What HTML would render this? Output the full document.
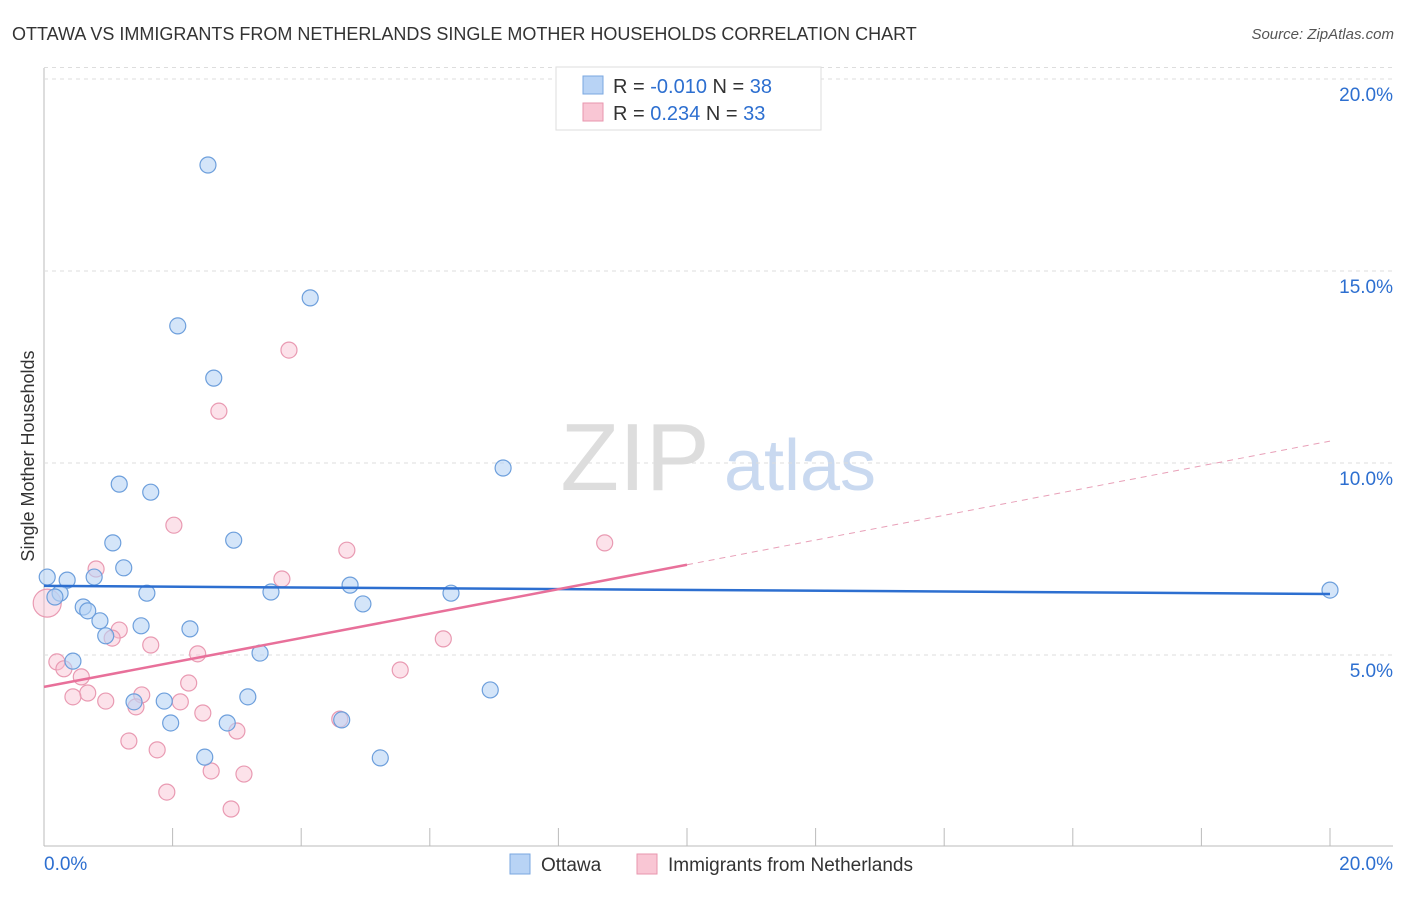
<!DOCTYPE html>
<html><head><meta charset="utf-8"><style>
body{margin:0;background:#fff;font-family:"Liberation Sans",sans-serif}
svg text{font-family:"Liberation Sans",sans-serif}
</style></head><body>
<svg id="chart" width="1406" height="892">
<text x="12" y="40" font-size="18" fill="#333">OTTAWA VS IMMIGRANTS FROM NETHERLANDS SINGLE MOTHER HOUSEHOLDS CORRELATION CHART</text>
<text x="1394" y="39" font-size="15" fill="#555" text-anchor="end" font-style="italic">Source: ZipAtlas.com</text>
<text x="34" y="456" font-size="18" fill="#333" text-anchor="middle" transform="rotate(-90 34 456)">Single Mother Households</text>
<g><text x="635" y="490" font-size="96" fill="#ddd" text-anchor="middle" font-family="Liberation Serif">ZIP</text><text x="800" y="490" font-size="72" fill="#c9d9f0" text-anchor="middle">atlas</text></g>
<g id="grid"></g><g id="marks"></g>
<g>
<rect x="556" y="67" width="265" height="63" fill="#fff" stroke="#ddd"/>
<rect x="583" y="76" width="20" height="18" fill="#b8d3f5" stroke="#7aa7e0"/>
<text x="613" y="93" font-size="20" fill="#333">R = <tspan fill="#2d6fd0">-0.010</tspan>   N = <tspan fill="#2d6fd0">38</tspan></text>
<rect x="583" y="103" width="20" height="18" fill="#f9c6d4" stroke="#e896ae"/>
<text x="613" y="120" font-size="20" fill="#333">R =  <tspan fill="#2d6fd0">0.234</tspan>   N = <tspan fill="#2d6fd0">33</tspan></text>
</g>
<g>
<rect x="510" y="854" width="20" height="20" fill="#b8d3f5" stroke="#7aa7e0"/><text x="541" y="871" font-size="19" fill="#333">Ottawa</text>
<rect x="637" y="854" width="20" height="20" fill="#f9c6d4" stroke="#e896ae"/><text x="668" y="871" font-size="19" fill="#333">Immigrants from Netherlands</text>
</g>
</svg>
<script>
const yTicks=[5,10,15,20];
const yTickLabels=["5.0%","10.0%","15.0%","20.0%"];
const ottawaX=[2.55,4.14,2.08,2.64,7.14,1.17,1.66,2.95,1.07,1.24,0.78,0.36,0.05,1.60,0.25,0.17,3.53,4.76,4.96,6.33,0.61,0.68,0.87,1.51,2.27,0.96,3.36,0.45,3.17,1.87,1.40,1.97,2.85,4.63,6.94,2.50,5.23,20.0];
const ottawaY=[17.76,14.30,13.57,12.21,9.87,9.45,9.24,7.99,7.92,7.27,7.03,6.95,7.03,6.61,6.61,6.51,6.64,6.82,6.33,6.61,6.25,6.15,5.89,5.76,5.68,5.50,5.05,4.84,3.91,3.80,3.78,3.23,3.23,3.31,4.09,2.34,2.32,6.69];
const nethX=[3.81,2.72,2.02,4.71,8.72,0.81,3.70,1.17,1.06,1.66,6.21,2.39,0.20,0.31,5.54,0.58,2.25,0.68,0.45,1.52,0.96,2.12,1.43,2.47,4.60,3.00,1.32,1.76,2.60,3.11,1.91,2.91,0.05];
const nethY=[12.94,11.35,8.38,7.73,7.92,7.24,6.98,5.65,5.44,5.26,5.42,5.03,4.82,4.64,4.61,4.43,4.27,4.01,3.91,3.96,3.80,3.78,3.65,3.49,3.33,3.02,2.76,2.53,1.98,1.90,1.43,0.99,6.35];
const ottawaTrend=[6.80,6.59];
const nethTrend=[4.17,7.35,10.57];
const X=v=>44+v*64.3, Y=v=>847-v*38.4;
const NS="http://www.w3.org/2000/svg";
function mk(t,a,p){const e=document.createElementNS(NS,t);for(const k in a)e.setAttribute(k,a[k]);p.appendChild(e);return e;}
const grid=document.getElementById('grid'),marks=document.getElementById('marks');
mk('line',{x1:44,y1:68,x2:44,y2:846,stroke:'#bbb'},grid);
mk('line',{x1:44,y1:846,x2:1393,y2:846,stroke:'#bbb'},grid);
mk('line',{x1:44,y1:Y(20.3),x2:1393,y2:Y(20.3),stroke:'#ddd','stroke-dasharray':'4,4'},grid);
yTicks.forEach((t,i)=>{
 const l=mk('line',{x1:44,y1:Y(t),x2:1393,y2:Y(t),stroke:'#ddd','stroke-dasharray':'4,4'},grid);
 
 
 const tx=mk('text',{x:1393,y:Y(t)+22,'font-size':19,fill:'#2d6fd0','text-anchor':'end'},grid);
 tx.textContent=yTickLabels[i];
 
 
});
for(let i=1;i<=10;i++){const l=mk('line',{x1:X(i*2),y1:828,x2:X(i*2),y2:846,stroke:'#bbb'},grid);
 
 }
const a=mk('text',{x:44,y:870,'font-size':19,fill:'#2d6fd0'},grid);a.textContent='0.0%';


const b=mk('text',{x:1393,y:870,'font-size':19,fill:'#2d6fd0','text-anchor':'end'},grid);b.textContent='20.0%';


nethX.forEach((v,i)=>{const c=mk('circle',{cx:X(v),cy:Y(nethY[i]),r:i==nethX.length-1?14:8,fill:'rgba(249,190,208,0.45)',stroke:'#e99ab2','stroke-width':1.2},marks);
 
 });
ottawaX.forEach((v,i)=>{const c=mk('circle',{cx:X(v),cy:Y(ottawaY[i]),r:8,fill:'rgba(184,211,245,0.6)',stroke:'#6d9fdc','stroke-width':1.2},marks);
 
 });
const l1=mk('line',{x1:X(0),y1:Y(ottawaTrend[0]),x2:X(20),y2:Y(ottawaTrend[1]),stroke:'#2d6fd0','stroke-width':2.5},marks);


const l2=mk('line',{x1:X(0),y1:Y(nethTrend[0]),x2:X(10),y2:Y(nethTrend[1]),stroke:'#e8709a','stroke-width':2.5},marks);


const l3=mk('line',{x1:X(10),y1:Y(nethTrend[1]),x2:X(20),y2:Y(nethTrend[2]),stroke:'#e8a0b8','stroke-width':1,'stroke-dasharray':'6,5'},marks);


</script>
</body></html>
